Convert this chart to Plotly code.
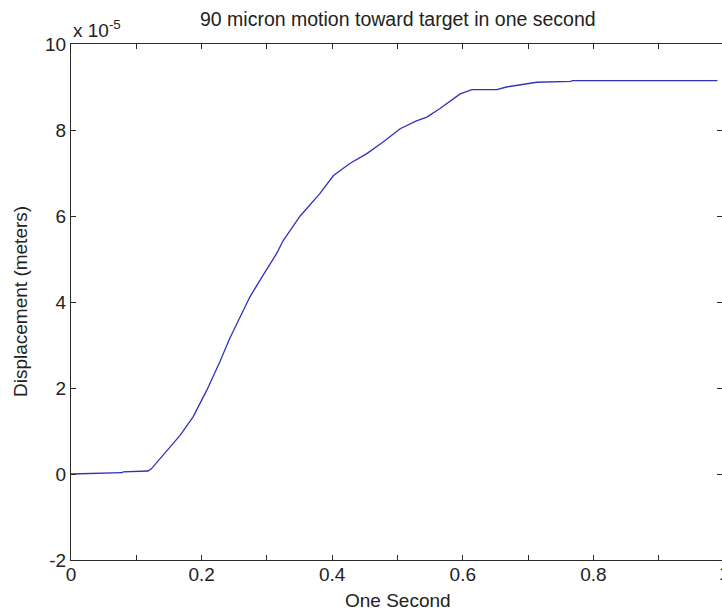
import plotly.graph_objects as go

# Time (s) and displacement (m) of the stage over one second
time_s = [0.000, 0.050, 0.078, 0.080, 0.118, 0.123, 0.141, 0.155, 0.167, 0.187,
          0.208, 0.228, 0.243, 0.259, 0.274, 0.294, 0.315, 0.325, 0.351, 0.381,
          0.402, 0.427, 0.453, 0.478, 0.504, 0.529, 0.545, 0.565, 0.580, 0.596,
          0.614, 0.652, 0.667, 0.693, 0.713, 0.765, 0.768, 0.990]
displacement_m = [0.00e-5, 0.02e-5, 0.03e-5, 0.05e-5, 0.07e-5, 0.12e-5, 0.44e-5, 0.68e-5, 0.90e-5, 1.33e-5,
                  1.95e-5, 2.61e-5, 3.15e-5, 3.65e-5, 4.12e-5, 4.62e-5, 5.13e-5, 5.43e-5, 6.00e-5, 6.52e-5,
                  6.94e-5, 7.22e-5, 7.45e-5, 7.72e-5, 8.03e-5, 8.21e-5, 8.30e-5, 8.50e-5, 8.67e-5, 8.84e-5,
                  8.94e-5, 8.94e-5, 9.00e-5, 9.06e-5, 9.11e-5, 9.13e-5, 9.15e-5, 9.15e-5]

y_scale = 1e-5
x_tick_vals = [0.0, 0.1, 0.2, 0.3, 0.4, 0.5, 0.6, 0.7, 0.8, 0.9]
x_tick_text = ["0", "", "0.2", "", "0.4", "", "0.6", "", "0.8", ""]
y_tick_vals = [-2, 0, 2, 4, 6, 8, 10]
y_tick_text = ["-2", "0", "2", "4", "6", "8", "10"]

W, H = 722, 612
ML, MR, MT, MB = 71, 0, 44, 52
plot_w = W - ML - MR
plot_h = H - MT - MB
px_per_unit = 653.0  # horizontal pixels per second
x_max = plot_w / px_per_unit

FONT = "Liberation Sans, Arial, sans-serif"
TXT = "#222222"
AX = "#2a2a2a"
FS = 19

fig = go.Figure()
fig.add_trace(go.Scatter(
    x=time_s, y=[v / y_scale for v in displacement_m],
    mode="lines", line=dict(color="rgb(50,50,185)", width=1.3),
    showlegend=False, hoverinfo="skip"))
# invisible trace on the right-hand axis so its ticks are drawn
fig.add_trace(go.Scatter(x=[time_s[0]], y=[0], yaxis="y2", mode="lines",
                         showlegend=False, hoverinfo="skip", line=dict(width=0)))

fig.update_layout(
    width=W, height=H,
    margin=dict(l=ML, r=MR, t=MT, b=MB, pad=0),
    paper_bgcolor="white", plot_bgcolor="white",
    font=dict(family=FONT, size=FS, color=TXT),
    xaxis=dict(range=[0, x_max], tickvals=x_tick_vals, ticktext=x_tick_text,
               ticks="inside", ticklen=5, tickwidth=1, tickcolor=AX,
               showline=True, linecolor=AX, linewidth=1, mirror="ticks",
               showgrid=False, zeroline=False, ticklabelstandoff=-3,
               tickfont=dict(size=FS, color=TXT)),
    yaxis=dict(range=[-2, 10], tickvals=y_tick_vals, ticktext=y_tick_text,
               ticks="inside", ticklen=5, tickwidth=1, tickcolor=AX,
               showline=True, linecolor=AX, linewidth=1, mirror=False,
               showgrid=False, zeroline=False, tickfont=dict(size=FS, color=TXT)),
    yaxis2=dict(range=[-2, 10], overlaying="y", side="right", tickvals=y_tick_vals,
                ticks="inside", ticklen=5, tickwidth=1, tickcolor=AX,
                showticklabels=False, showline=False, showgrid=False, zeroline=False),
)

def px_x(px):
    return (px - ML) / plot_w

def px_y(py):
    return (H - MB - py) / plot_h

annotations = [
    dict(text="90 micron motion toward target in one second", x=px_x(397.5), y=px_y(19),
         xanchor="center", yanchor="middle", font=dict(size=19.5, color=TXT)),
    dict(text="One Second", x=px_x(397.5), y=px_y(600),
         xanchor="center", yanchor="middle", font=dict(size=FS, color=TXT)),
    dict(text="Displacement (meters)", x=px_x(20), y=px_y(302), textangle=-90,
         xanchor="center", yanchor="middle", font=dict(size=FS, color=TXT)),
    dict(text="x 10<sup>-5</sup>", x=px_x(71), y=px_y(29),
         xanchor="left", yanchor="middle", font=dict(size=FS, color=TXT)),
    dict(text="1", x=px_x(724), y=px_y(573),
         xanchor="center", yanchor="middle", font=dict(size=FS, color=TXT)),
]
for a in annotations:
    a.update(xref="paper", yref="paper", showarrow=False)
fig.update_layout(annotations=annotations)

fig.write_html("out.html")
